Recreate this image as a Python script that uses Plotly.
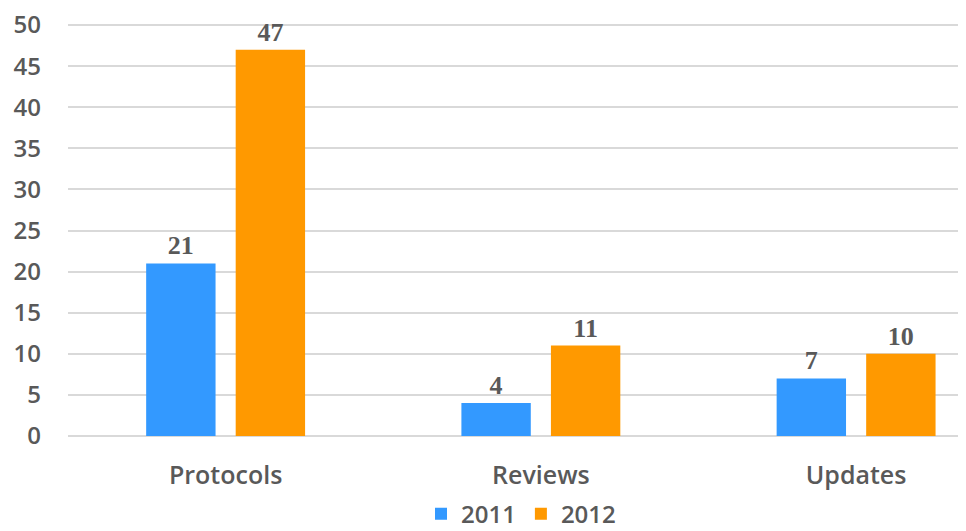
import plotly.graph_objects as go

categories = ["Protocols", "Reviews", "Updates"]
series_names = ["2011", "2012"]
values_2011 = [21, 4, 7]
values_2012 = [47, 11, 10]
y_ticks = [0, 5, 10, 15, 20, 25, 30, 35, 40, 45, 50]

colors = ["#3399FF", "#FF9900"]
label_font = dict(family="Liberation Serif", size=26, color="#595959", weight="bold")
sans = "Open Sans"

fig = go.Figure()
for name, vals, col in zip(series_names, [values_2011, values_2012], colors):
    fig.add_trace(go.Bar(
        x=categories, y=vals, name=name,
        marker=dict(color=col, line=dict(width=0)),
        text=[str(v) for v in vals],
        textposition="outside",
        textfont=label_font,
        cliponaxis=False,
    ))

fig.update_layout(
    width=966, height=531,
    margin=dict(l=60, r=0, t=15, b=103),
    paper_bgcolor="white", plot_bgcolor="white",
    barmode="group", bargap=0.432, bargroupgap=0.225,
    font=dict(family=sans, size=24, color="#595959"),
    showlegend=True,
    legend=dict(orientation="h", x=0.5, xanchor="center", xref="paper",
                y=0.047, yanchor="middle", yref="container",
                font=dict(family=sans, size=24, color="#595959", weight=600),
                itemwidth=30, traceorder="normal"),
    uniformtext=dict(mode=False),
)
fig.update_xaxes(range=[-0.5, 2.374], showgrid=False, showline=False, ticks="",
                 automargin=False, ticklabelstandoff=22,
                 tickfont=dict(family=sans, size=25, color="#595959", weight=600))
fig.update_yaxes(range=[0, 50.25], tickvals=y_ticks, showgrid=True, gridcolor="#D9D9D9",
                 gridwidth=1.5, zeroline=True, zerolinecolor="#D9D9D9", zerolinewidth=1.5,
                 showline=False, ticks="", ticklabelstandoff=26, automargin=False,
                 ticklabeloverflow="allow",
                 tickfont=dict(family=sans, size=24, color="#595959", weight=600))

fig.write_html("out.html")
